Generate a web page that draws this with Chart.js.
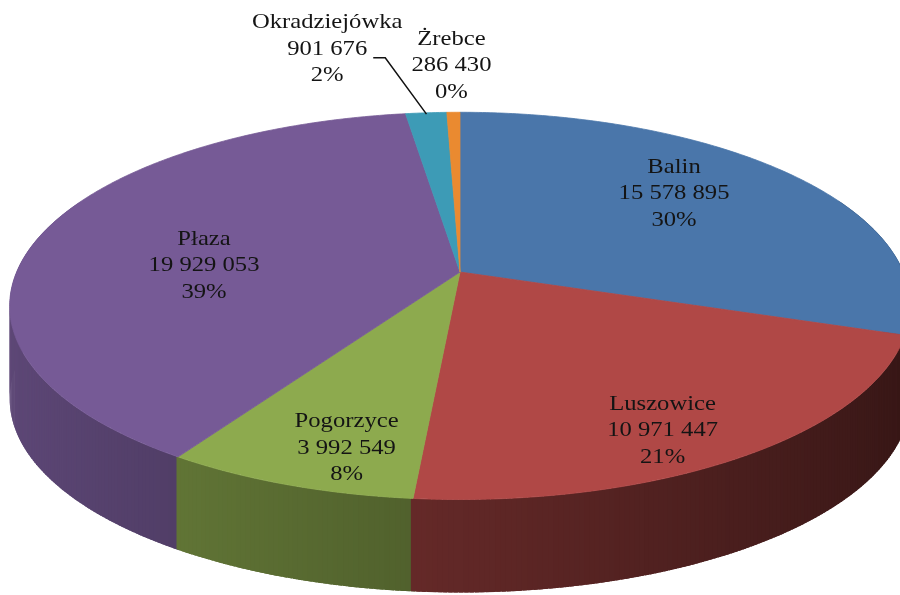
<!DOCTYPE html>
<html>
<head>
<meta charset="utf-8">
<script src="https://cdn.jsdelivr.net/npm/chart.js@4.4.0/dist/chart.umd.min.js"></script>
<style>
  body { margin: 0; background: #fff; }
</style>
</head>
<body>
<canvas id="pieChart" width="900" height="595"></canvas>
<script>
// data
const villages = ['Balin', 'Luszowice', 'Pogorzyce', 'Płaza', 'Okradziejówka', 'Żrebce'];
const amounts = [15578895, 10971447, 3992549, 19929053, 901676, 286430];
const percentLabels = ['30%', '21%', '8%', '39%', '2%', '0%'];
const topColors = ['#4a76aa', '#b04846', '#8daa4e', '#765a96', '#3d9bb6', '#ea8a30'];

// label layout (radius fraction on the top face + small pixel nudge)
const labelRadius = [0.69, 0.84, 0.83, 0.58];
const labelNudge = [[-18, -8], [-30, 8], [25, 5], [-10, 16]];
// outside labels: shift from the slice's outer edge point
const outsideShift = { 4: [-99, -64], 5: [-2, -47] };

function fmt(n) {
    return String(n).replace(/\B(?=(\d{3})+(?!\d))/g, ' ');
}

function shade(hex, f) {
    const r = parseInt(hex.slice(1, 3), 16), g = parseInt(hex.slice(3, 5), 16), b = parseInt(hex.slice(5, 7), 16);
    return `rgb(${Math.round(r * f)},${Math.round(g * f)},${Math.round(b * f)})`;
}

// perspective of the tilted disc, built on the arc geometry chart.js computed
function projector(arc) {
    const A = arc.outerRadius * 1.63, B = arc.outerRadius * 0.69, k = 0.175;
    return (ang, r) => {
        const u = r * Math.cos(ang), v = -r * Math.sin(ang);
        const s = 1 / (1 + k * v);
        return [arc.x + A * u * s, arc.y - B * v * s];
    };
}

function draw3d(chart) {
    const ctx = chart.ctx;
    const arcs = chart.getDatasetMeta(0).data;
    const proj = projector(arcs[0]);
    const depth = 93;

    // outer wall, back pieces first
    const quads = [];
    arcs.forEach((arc, i) => {
        const a0 = arc.startAngle, a1 = arc.endAngle;
        const n = Math.max(2, Math.ceil((a1 - a0) / 0.01));
        for (let j = 0; j < n; j++) {
            const t0 = a0 + (a1 - a0) * j / n, t1 = a0 + (a1 - a0) * (j + 1) / n;
            const tm = (t0 + t1) / 2;
            if (Math.sin(tm) < -0.4) continue;
            quads.push({ t0, t1, i, v: -Math.sin(tm) });
        }
    });
    quads.sort((a, b) => b.v - a.v);
    quads.forEach(q => {
        const p0 = proj(q.t0 - 0.004, 1), p1 = proj(q.t1 + 0.004, 1);
        ctx.fillStyle = shade(topColors[q.i], 0.55 - 0.25 * Math.cos((q.t0 + q.t1) / 2));
        ctx.beginPath();
        ctx.moveTo(p0[0], p0[1]);
        ctx.lineTo(p1[0], p1[1]);
        ctx.lineTo(p1[0], p1[1] + depth);
        ctx.lineTo(p0[0], p0[1] + depth);
        ctx.closePath();
        ctx.fill();
    });

    // top faces
    arcs.forEach((arc, i) => {
        const c = proj(0, 0);
        ctx.beginPath();
        ctx.moveTo(c[0], c[1]);
        const n = Math.max(2, Math.ceil((arc.endAngle - arc.startAngle) / 0.01));
        for (let j = 0; j <= n; j++) {
            const p = proj(arc.startAngle + (arc.endAngle - arc.startAngle) * j / n, 1);
            ctx.lineTo(p[0], p[1]);
        }
        ctx.closePath();
        ctx.fillStyle = topColors[i];
        ctx.strokeStyle = topColors[i];
        ctx.lineWidth = 0.8;
        ctx.fill();
        ctx.stroke();
    });

    // labels
    ctx.font = '22px "Liberation Serif", "Times New Roman", serif';
    ctx.textAlign = 'center';
    ctx.textBaseline = 'middle';
    ctx.fillStyle = '#141414';
    const lineH = 26.5;
    arcs.forEach((arc, i) => {
        const mid = (arc.startAngle + arc.endAngle) / 2;
        let x, y;
        if (outsideShift[i]) {
            const p = proj(mid, 1);
            x = p[0] + outsideShift[i][0];
            y = p[1] + outsideShift[i][1];
        } else {
            const p = proj(mid, labelRadius[i]);
            x = p[0] + labelNudge[i][0];
            y = p[1] + labelNudge[i][1];
        }
        const lines = [villages[i], fmt(amounts[i]), percentLabels[i]];
        lines.forEach((t, j) => {
            ctx.save();
            ctx.translate(x, y + (j - 1) * lineH);
            ctx.scale(1.12, 1);
            ctx.fillText(t, 0, 0);
            ctx.restore();
        });
        // leader line for Okradziejówka
        if (i === 4) {
            const w = ctx.measureText(fmt(amounts[i])).width * 1.12;
            const sx = x + w / 2 + 6, sy = y + 9;
            const end = proj(mid, 0.99);
            ctx.beginPath();
            ctx.moveTo(sx, sy);
            ctx.lineTo(sx + 12, sy);
            ctx.lineTo(end[0], end[1]);
            ctx.strokeStyle = '#111';
            ctx.lineWidth = 1.5;
            ctx.stroke();
        }
    });
}

const pie3d = {
    id: 'pie3d',
    beforeDatasetsDraw(chart) {
        draw3d(chart);
        return false; // skip the flat pie
    }
};

const ctx = document.getElementById('pieChart').getContext('2d');
new Chart(ctx, {
    type: 'pie',
    data: {
        labels: villages,
        datasets: [{
            data: amounts,
            backgroundColor: topColors,
            borderWidth: 0
        }]
    },
    options: {
        responsive: false,
        animation: false,
        layout: { padding: { left: 20, bottom: 51 } },
        plugins: {
            legend: { display: false },
            tooltip: { enabled: false }
        }
    },
    plugins: [pie3d]
});
</script>
</body>
</html>
